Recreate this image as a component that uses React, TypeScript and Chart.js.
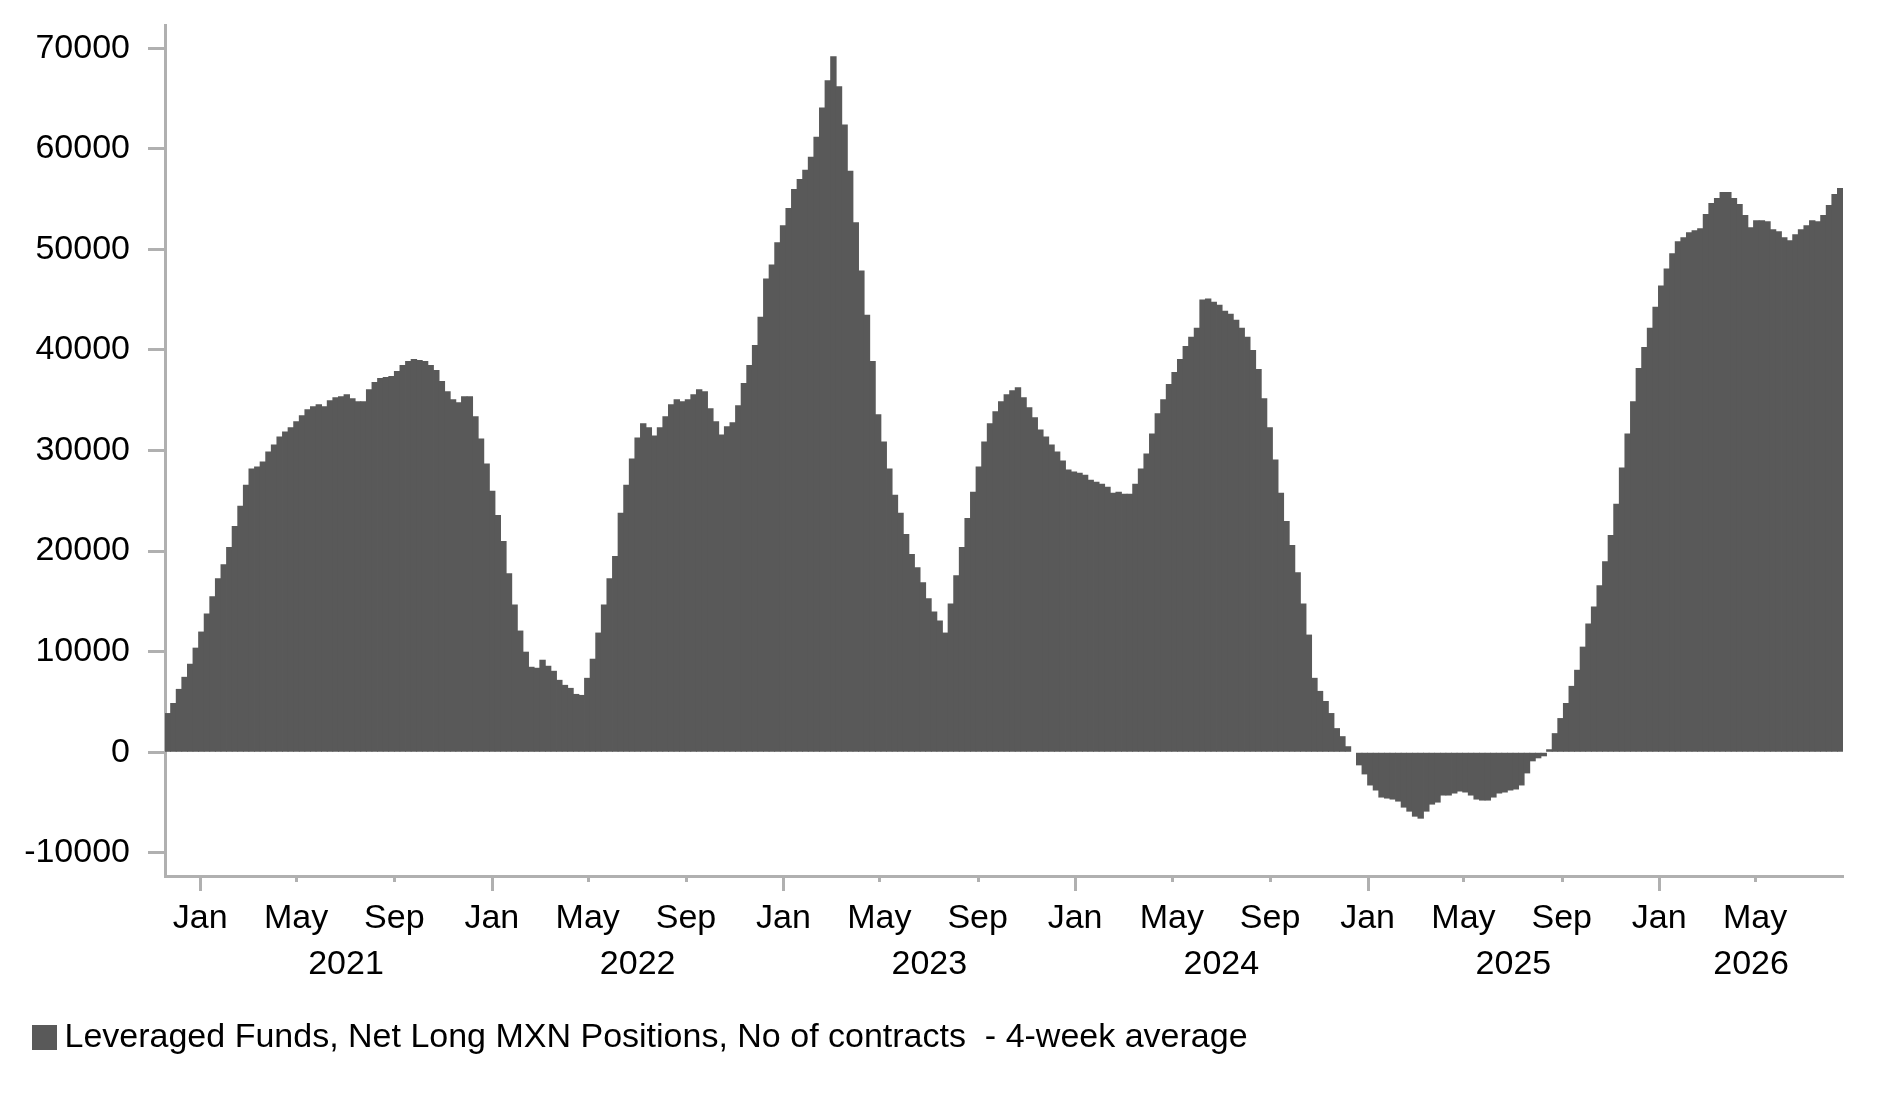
import { useEffect, useRef } from 'react';
import { Chart, registerables } from 'chart.js';

Chart.register(...registerables);

// weekly data, first week starts 18 Nov 2020
const FIRST_WEEK = [2020, 10, 18];
const NET_LONG_4W = [
  3900, 4900, 6300, 7500, 8800, 10400, 12000, 13800, 15500, 17300,
  18700, 20400, 22500, 24500, 26600, 28200, 28400, 28900, 29900, 30600,
  31400, 31900, 32300, 32900, 33500, 34100, 34400, 34600, 34400, 35000,
  35300, 35400, 35600, 35200, 34900, 34900, 36100, 36800, 37200, 37300,
  37400, 37900, 38500, 38900, 39100, 39000, 38900, 38500, 38000, 36900,
  35900, 35100, 34800, 35400, 35400, 33400, 31200, 28700, 26000, 23600,
  21000, 17800, 14700, 12100, 10000, 8500, 8400, 9200, 8600, 8100,
  7200, 6700, 6400, 5800, 5700, 7400, 9300, 11900,
  14700, 17300, 19500, 23800, 26600, 29200, 31300, 32700, 32300, 31500,
  32300, 33400, 34600, 35100, 34900, 35100, 35600, 36100, 35900, 34200,
  32900, 31600, 32400, 32800, 34500, 36700, 38500, 40500, 43300, 47100,
  48500, 50700, 52400, 54100, 56000, 57000, 57900, 59200, 61200, 64100,
  66800, 69200, 66200, 62400, 57800, 52700, 47900, 43500, 38900, 33600,
  30900, 28200, 25600, 23800, 21700, 19700, 18400, 16900, 15300, 14000,
  13100, 11900, 14800, 17600, 20400, 23300, 25900, 28400, 30900, 32700,
  33900, 34900, 35600, 36000, 36300,
  35300, 34300, 33300, 32100, 31400, 30600, 29900, 29000, 28100, 27900,
  27800, 27600, 27100, 26900, 26700, 26400, 25800, 25900, 25700, 25700,
  26700, 28200, 29700, 31700, 33700, 35100, 36600, 37800, 39100, 40400,
  41300, 42200, 45000, 45100, 44800, 44500, 43900, 43600, 43000, 42200,
  41300, 40000, 38100, 35200, 32300, 29100, 25800, 23000, 20600, 17900,
  14800, 11700, 7400, 6100, 5100, 3900, 2400, 1600, 600, 0,
  -1300, -2200, -3300, -3800, -4500, -4600, -4700, -4900, -5500, -5900,
  -6400, -6600, -5900, -5200, -5000,
  -4300, -4300, -4100, -3900, -4000, -4300, -4700, -4800, -4800, -4500,
  -4100, -4000, -3800, -3700, -3300, -2100, -900, -600, -400, 300,
  1900, 3400, 4900, 6600, 8200, 10500, 12800, 14500, 16600, 19000,
  21600, 24700, 28300, 31700, 34900, 38200, 40300, 42200, 44300, 46400,
  48100, 49600, 50800, 51200, 51700, 51900, 52100, 53500, 54600, 55100,
  55700, 55700, 55100, 54500, 53400, 52200, 52900, 52900, 52800, 52000,
  51800, 51200, 50900, 51500, 52000, 52400, 52900, 52800, 53400, 54400,
  55500, 56100,
];

const MONTH_NAMES = ['Jan', 'May', 'Sep'];
const MONTH_NUMBERS = [0, 4, 8];
const YEARS = [2021, 2022, 2023, 2024, 2025, 2026];
const Y_TICKS = [-10000, 0, 10000, 20000, 30000, 40000, 50000, 60000, 70000];
const LEGEND_LABEL = 'Leveraged Funds, Net Long MXN Positions, No of contracts  - 4-week average';

const BAR_COLOR = '#595959';
const AXIS_GREY = '#b0b0b0';
const FONT = { family: "'Liberation Sans', Arial, sans-serif", size: 34 };

const EPOCH = Date.UTC(2020, 0, 1);
const dayOf = (y: number, m: number, d: number) => (Date.UTC(y, m, d) - EPOCH) / 86400000;

const X_MIN = dayOf(FIRST_WEEK[0], FIRST_WEEK[1], FIRST_WEEK[2]);
const X_MAX = X_MIN + 7 * NET_LONG_4W.length;

const monthTicks: { value: number; label: string; major: boolean }[] = [];
YEARS.forEach(year => {
  MONTH_NUMBERS.forEach((m, k) => {
    const d = dayOf(year, m, 1);
    if (d >= X_MIN && d <= X_MAX) monthTicks.push({ value: d, label: MONTH_NAMES[k], major: m === 0 });
  });
});

const yearTicks = YEARS.map(year => {
  const a = Math.max(dayOf(year, 0, 1), X_MIN);
  const b = Math.min(dayOf(year + 1, 0, 1), X_MAX);
  return { value: (a + b) / 2, label: String(year) };
});

// Jan ticks are longer than May / Sep ones
const monthTickMarks = {
  id: 'monthTickMarks',
  afterDraw(chart: Chart) {
    const scale = chart.scales.x;
    const ctx = chart.ctx;
    ctx.save();
    ctx.strokeStyle = AXIS_GREY;
    ctx.lineWidth = 3;
    monthTicks.forEach(t => {
      const px = Math.round(scale.getPixelForValue(t.value)) + 0.5;
      ctx.beginPath();
      ctx.moveTo(px, scale.top);
      ctx.lineTo(px, scale.top + (t.major ? 15 : 6));
      ctx.stroke();
    });
    ctx.restore();
  },
};

const noAxisPadding = (s: any) => {
  s.paddingTop = 0;
  s.paddingBottom = 0;
  s.paddingLeft = 0;
  s.paddingRight = 0;
};

export default function App() {
  const canvasRef = useRef<HTMLCanvasElement | null>(null);
  const chartRef = useRef<Chart | null>(null);

  useEffect(() => {
    if (!canvasRef.current) return;
    if (chartRef.current) chartRef.current.destroy();

    chartRef.current = new Chart(canvasRef.current, {
      type: 'bar',
      data: {
        datasets: [
          {
            label: LEGEND_LABEL,
            data: NET_LONG_4W.map((v, i) => ({ x: X_MIN + 7 * i + 3.5, y: v })),
            backgroundColor: BAR_COLOR,
            borderWidth: 0,
            barThickness: 6.4,
            inflateAmount: 0,
          },
        ],
      },
      options: {
        animation: false,
        responsive: true,
        maintainAspectRatio: false,
        layout: { padding: { top: 25, right: 40, bottom: 36.5, left: 0 } },
        scales: {
          x: {
            type: 'linear',
            min: X_MIN,
            max: X_MAX,
            offset: false,
            weight: 0,
            afterBuildTicks: (s: any) => {
              s.ticks = monthTicks.map(t => ({ value: t.value }));
            },
            afterFit: (s: any) => {
              s.height = 65;
              noAxisPadding(s);
            },
            grid: { display: false, drawTicks: false, offset: false },
            border: { display: true, color: AXIS_GREY, width: 3 },
            ticks: {
              autoSkip: false,
              maxRotation: 0,
              minRotation: 0,
              padding: 22,
              color: '#000',
              font: FONT,
              callback: (_v: any, i: number) => monthTicks[i]?.label ?? '',
            },
          },
          x2: {
            type: 'linear',
            position: 'bottom',
            min: X_MIN,
            max: X_MAX,
            offset: false,
            weight: 1,
            afterBuildTicks: (s: any) => {
              s.ticks = yearTicks.map(t => ({ value: t.value }));
            },
            afterFit: (s: any) => {
              s.height = 38;
              noAxisPadding(s);
            },
            grid: { display: false, drawTicks: false },
            border: { display: false },
            ticks: {
              autoSkip: false,
              maxRotation: 0,
              minRotation: 0,
              padding: 3,
              color: '#000',
              font: FONT,
              callback: (_v: any, i: number) => yearTicks[i]?.label ?? '',
            },
          },
          y: {
            type: 'linear',
            min: -12300,
            max: 72300,
            afterBuildTicks: (s: any) => {
              s.ticks = Y_TICKS.map(v => ({ value: v }));
            },
            afterFit: (s: any) => {
              s.width = 165;
              noAxisPadding(s);
            },
            grid: {
              drawOnChartArea: false,
              drawTicks: true,
              tickLength: 17,
              tickColor: AXIS_GREY,
              tickWidth: 3,
            },
            border: { display: true, color: AXIS_GREY, width: 3 },
            ticks: {
              padding: 18,
              color: '#000',
              font: FONT,
              callback: (v: any) => String(v),
            },
          },
        },
        plugins: {
          legend: {
            display: true,
            position: 'bottom',
            align: 'start',
            labels: {
              usePointStyle: true,
              pointStyle: 'rect',
              boxWidth: 6,
              boxHeight: 25,
              padding: 41.5,
              color: '#000',
              font: FONT,
            },
          },
          tooltip: { enabled: false },
        },
      },
      plugins: [monthTickMarks],
    } as any);

    return () => {
      if (chartRef.current) {
        chartRef.current.destroy();
        chartRef.current = null;
      }
    };
  }, []);

  return (
    <div style={{ position: 'absolute', left: 0, top: 0, width: '1883px', height: '1101px', background: '#fff' }}>
      <canvas ref={canvasRef} aria-label="Leveraged Funds, Net Long MXN Positions" />
    </div>
  );
}
